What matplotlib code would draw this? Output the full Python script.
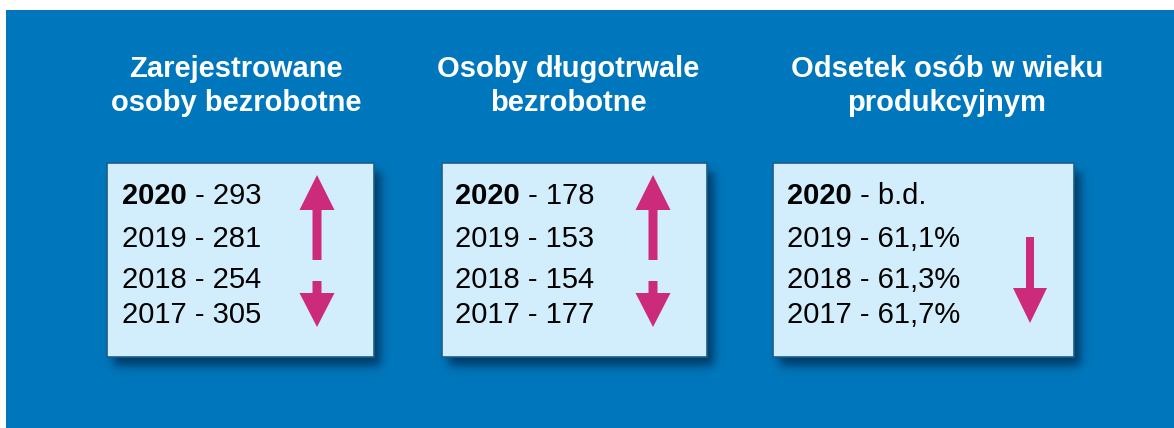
import numpy as np
import matplotlib
matplotlib.use("Agg")
import matplotlib.pyplot as plt
from matplotlib.patches import Rectangle, FancyArrow

# ---- data ----
titles = [["Zarejestrowane", "osoby bezrobotne"],
          ["Osoby długotrwale", "bezrobotne"],
          ["Odsetek osób w wieku", "produkcyjnym"]]
years = ["2020", "2019", "2018", "2017"]
values = [["293", "281", "254", "305"],
          ["178", "153", "154", "177"],
          ["b.d.", "61,1%", "61,3%", "61,7%"]]
trends = ["both", "both", "down"]

# ---- layout (pixels) ----
W, H = 1174, 428
BLUE = "#0077BC"
BOXFILL = "#D2EEFC"
BOXEDGE = "#1B5E8C"
MAGENTA = "#CC2A7B"
FONT = "Liberation Sans"

boxes = [(107, 374), (442, 707), (773, 1074)]
box_top, box_bot = 163, 357
title_cx = [236, 568, 947]
title_baselines = [77, 111]
text_left = [122, 455, 787]
baselines = [204, 247, 288, 323]
arrow_cx = [317, 653, 1030]

fig = plt.figure(figsize=(W / 100, H / 100), dpi=100)
ax = fig.add_axes([0, 0, 1, 1])
ax.set_xlim(0, W)
ax.set_ylim(H, 0)
ax.axis("off")

ax.add_patch(Rectangle((6, 10), W - 6, H - 10, facecolor=BLUE, edgecolor="none", zorder=0))

# shadow image (blurred dark rectangles)
yy, xx = np.mgrid[0:H, 0:W]
shadow = np.zeros((H, W))
def soft(a, lo, hi, s):
    return 1 / (1 + np.exp(-(a - lo) / s)) * (1 / (1 + np.exp((a - hi) / s)))
for (x0, x1) in boxes:
    shadow = np.maximum(shadow, soft(xx, x0 + 6, x1 + 6, 3.0) * soft(yy, box_top + 8, box_bot + 8, 3.0))
rgba = np.zeros((H, W, 4))
rgba[..., 0] = 0.0
rgba[..., 1] = 0.18
rgba[..., 2] = 0.33
rgba[..., 3] = shadow * 0.85
ax.imshow(rgba, extent=(0, W, H, 0), zorder=1, interpolation="bilinear")

fig.canvas.draw()
renderer = fig.canvas.get_renderer()

fs = 21
for i, (x0, x1) in enumerate(boxes):
    ax.add_patch(Rectangle((x0, box_top), x1 - x0, box_bot - box_top,
                           facecolor=BOXFILL, edgecolor=BOXEDGE, linewidth=1.2, zorder=2))
    for line, yb in zip(titles[i], title_baselines):
        ax.text(title_cx[i], yb, line, ha="center", va="baseline", color="white",
                fontsize=21, fontweight="bold", family=FONT, zorder=3)
    for j, (yr, val) in enumerate(zip(years, values[i])):
        if j == 0:
            t = ax.text(text_left[i], baselines[j], yr, ha="left", va="baseline",
                        fontsize=fs, fontweight="bold", family=FONT, color="black", zorder=3)
            bb = t.get_window_extent(renderer)
            ax.text(bb.x1, baselines[j], " - " + val, ha="left", va="baseline",
                    fontsize=fs, family=FONT, color="black", zorder=3)
        else:
            ax.text(text_left[i], baselines[j], yr + " - " + val, ha="left", va="baseline",
                    fontsize=fs, family=FONT, color="black", zorder=3)
    cx = arrow_cx[i]
    if trends[i] == "both":
        ax.add_patch(FancyArrow(cx, 260, 0, -85, width=9, head_width=35, head_length=35,
                                length_includes_head=True, color=MAGENTA, lw=0, zorder=3))
        ax.add_patch(FancyArrow(cx, 281, 0, 46, width=9, head_width=35, head_length=34,
                                length_includes_head=True, color=MAGENTA, lw=0, zorder=3))
    else:
        ax.add_patch(FancyArrow(cx, 237, 0, 86, width=8, head_width=34, head_length=35,
                                length_includes_head=True, color=MAGENTA, lw=0, zorder=3))

fig.savefig("out.png", dpi=100, facecolor="white")
